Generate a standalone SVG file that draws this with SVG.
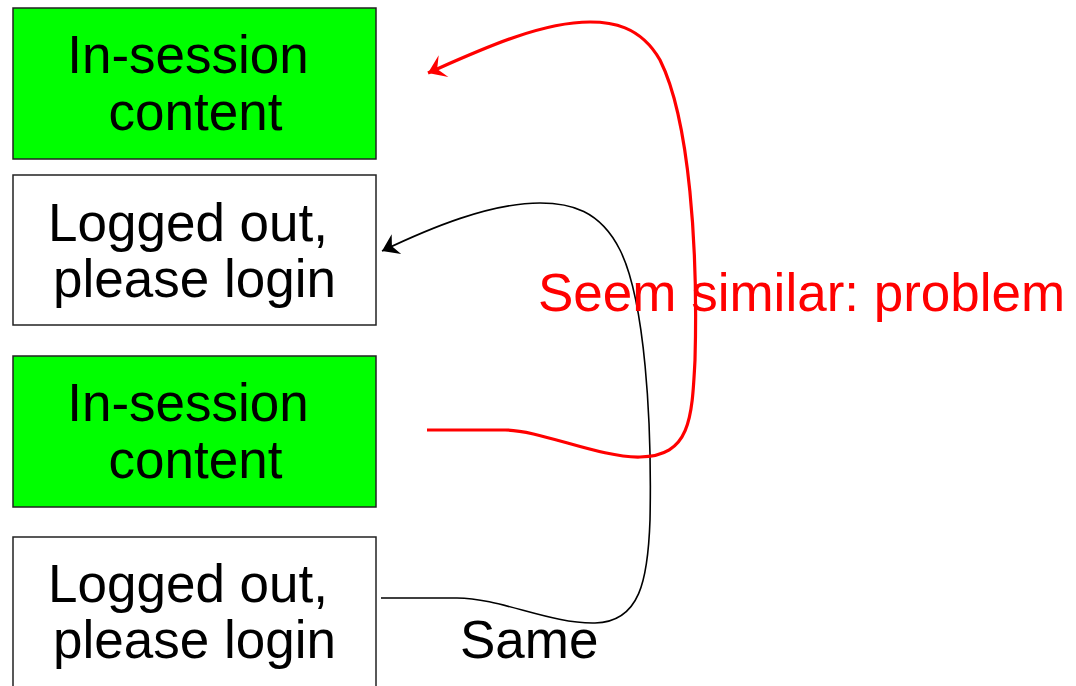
<svg xmlns="http://www.w3.org/2000/svg" width="1076" height="686" viewBox="0 0 1076 686">
<style>
.box{stroke:#222;stroke-width:1.5}
.green{fill:#00ff00}
.white{fill:#fff}
.t{font-family:"Liberation Sans",Arial,sans-serif;font-size:53px;fill:#000}
.red{fill:#ff0000}
.edge{fill:none}
</style>
<defs>
<marker id="ahRed" markerUnits="userSpaceOnUse" viewBox="-22 -14 24 28" refX="0" refY="0" markerWidth="24" markerHeight="28" orient="auto">
<path d="M0,0 L-17,-12 L-10,0 L-17,12 Z" fill="#ff0000"/>
</marker>
<marker id="ahBlack" markerUnits="userSpaceOnUse" viewBox="-22 -14 24 28" refX="0" refY="0" markerWidth="24" markerHeight="28" orient="auto">
<path d="M0,0 L-16,-11 L-11,0 L-16,11 Z" fill="#000"/>
</marker>
</defs>
<rect width="1076" height="686" fill="#fff"/>
<g id="node1">
<rect class="box green" x="13" y="8" width="363" height="151"/>
<text class="t" x="188" y="73" text-anchor="middle">In-session</text>
<text class="t" x="195.5" y="130" text-anchor="middle">content</text>
</g>
<g id="node2">
<rect class="box white" x="13" y="175" width="363" height="150"/>
<text class="t" x="188" y="241" text-anchor="middle">Logged out,</text>
<text class="t" x="194.5" y="297" text-anchor="middle">please login</text>
</g>
<g id="node3">
<rect class="box green" x="13" y="356" width="363" height="151"/>
<text class="t" x="188" y="421" text-anchor="middle">In-session</text>
<text class="t" x="195.5" y="478" text-anchor="middle">content</text>
</g>
<g id="node4">
<rect class="box white" x="13" y="537" width="363" height="160"/>
<text class="t" x="188" y="602" text-anchor="middle">Logged out,</text>
<text class="t" x="194.5" y="658" text-anchor="middle">please login</text>
</g>
<g id="connectors">
<path class="edge" d="M381,598 L457,598 C500,598 550,624 595,623 C640,622 648,580 650,520 C652,420 645,300 620,250 C600,210 570,203 540,203 C490,203 430,228 382,251" stroke="#000" stroke-width="1.6" marker-end="url(#ahBlack)"/>
<path class="edge" d="M427,430 L505,430 C540,430 600,458 640,457 C690,456 692,420 695,360 C698,250 690,120 660,60 C640,25 610,22 590,22 C540,22 480,50 428,73" stroke="#ff0000" stroke-width="3.2" marker-end="url(#ahRed)"/>
</g>
<g id="labels">
<text class="t red" x="538" y="311">Seem similar: problem</text>
<text class="t" x="460" y="658">Same</text>
</g>
</svg>
